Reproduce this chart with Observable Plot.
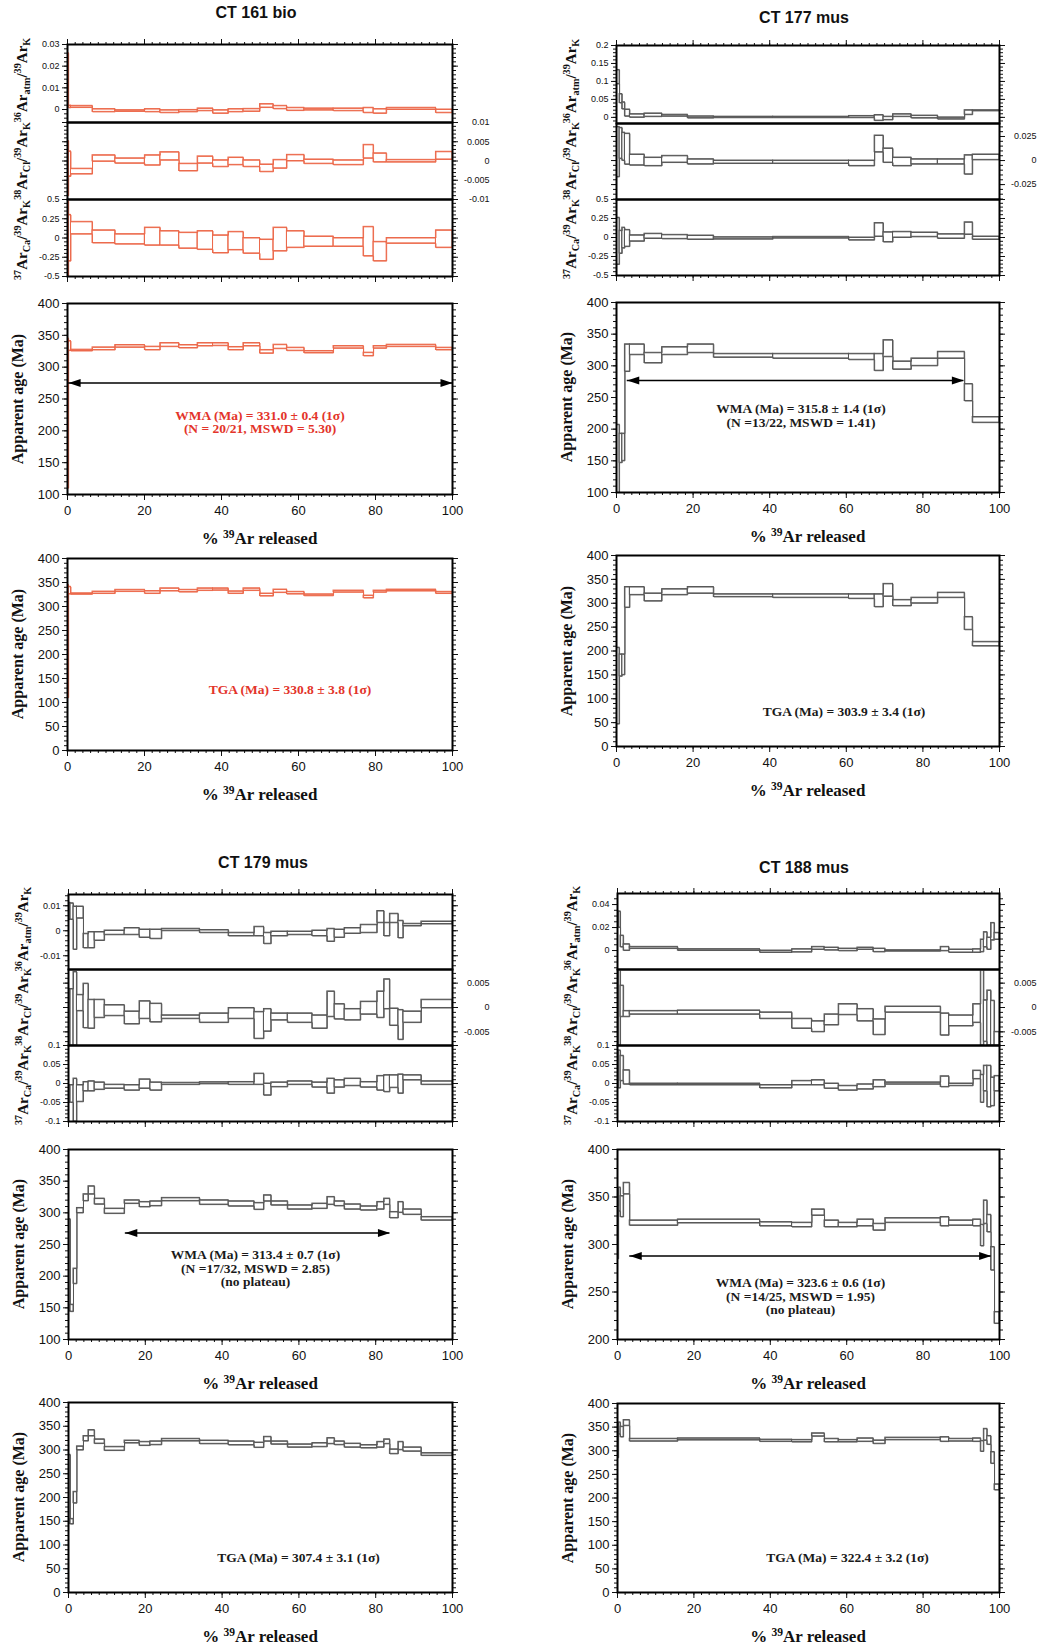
<!DOCTYPE html>
<html>
<head>
<meta charset="utf-8">
<script src="https://cdn.jsdelivr.net/npm/d3@7"></script>
<script src="https://cdn.jsdelivr.net/npm/@observablehq/plot@0.6"></script>
<style>
  html, body { margin: 0; padding: 0; background: #fff; }
  #root { position: relative; width: 1043px; height: 1649px; overflow: hidden; background: #fff; }
  .abs { position: absolute; white-space: nowrap; line-height: 1; color: #111; }
  .title { font: bold 16px "Liberation Sans", Arial, sans-serif; transform: translate(-50%, -50%); }
  .ylab { font: bold 15px "Liberation Serif", "Times New Roman", serif; transform: translate(-50%, -50%) rotate(-90deg); }
  .ylab.big { font-size: 16px; }
  .xlab { font: bold 17px "Liberation Serif", "Times New Roman", serif; transform: translate(-50%, -50%); }
  .abs sup, .abs sub { font-size: 0.68em; line-height: 0; position: relative; vertical-align: baseline; }
  .abs sup { top: -0.55em; }
  .abs sub { top: 0.3em; }
  #root svg { position: absolute; }
</style>
</head>
<body>
<div id="root"></div>
<script>
// ================= DATA =================
const sampleNames = ["CT 161 bio", "CT 177 mus", "CT 179 mus", "CT 188 mus"];

// ---- CT 161 bio : step boundaries (cumulative % 39Ar released) ----
const ct161Steps = [0, 0.3, 0.9, 6.5, 12.4, 20.1, 24.1, 29.0, 33.8, 37.8, 41.8, 45.7, 50.0, 53.5, 57.0, 61.5, 69.1, 76.9, 79.5, 82.9, 95.7, 100];
const ct161AgeLo = [110, 326, 325.4, 327.0, 331.1, 327.0, 332.2, 330.1, 333.2, 333.7, 327.0, 333.2, 321.7, 329.0, 325.9, 322.3, 329.6, 317.6, 329.6, 332.2, 327.0];
const ct161AgeHi = [345, 341, 327.5, 331.1, 334.8, 332.2, 337.9, 334.8, 337.9, 337.9, 331.7, 337.9, 327.0, 335.3, 330.6, 325.4, 333.2, 322.8, 333.2, 335.3, 330.6];
const ct161AtmLo = [0.0015, 0.0008, 0.0009, -0.0011, -0.0009, -0.0011, -0.0015, -0.0011, -0.0006, -0.0018, -0.0011, -0.0009, 0.0009, 0.0003, -0.0005, -0.0003, -0.0006, -0.0015, -0.0018, 0, -0.0015];
const ct161AtmHi = [0.026, 0.0018, 0.0017, 0.0002, -0.0003, 0.0002, -0.0003, -0.0002, 0.0005, -0.0003, 0.0002, 0.0003, 0.0025, 0.0017, 0.0008, 0.0005, 0.0005, 0.0008, 0.0002, 0.0008, 0];
const ct161ClLo = [-0.009, -0.004, -0.0034, -0.0001, -0.0006, -0.0011, 0.0002, -0.0026, -0.0006, -0.0015, -0.001, -0.0015, -0.0028, -0.0019, 0, -0.0007, -0.001, 0.0007, -0.0003, -0.0003, 0.0004];
const ct161ClHi = [0.0052, 0.0025, -0.002, 0.0015, 0.0007, 0.0015, 0.0023, -0.0007, 0.0012, 0.0002, 0.0009, 0.0002, -0.0009, 0.0003, 0.0016, 0.0004, 0.0002, 0.0042, 0.002, 0.0003, 0.0024];
const ct161CaLo = [-0.5, -0.3, 0.05, -0.065, -0.08, -0.095, -0.095, -0.135, -0.15, -0.195, -0.155, -0.2, -0.28, -0.17, -0.125, -0.11, -0.11, -0.235, -0.3, -0.07, -0.125];
const ct161CaHi = [0.48, 0.3, 0.21, 0.1, 0.05, 0.135, 0.09, 0.07, 0.09, 0.035, 0.08, 0, -0.02, 0.135, 0.09, 0.02, 0, 0.145, -0.05, 0, 0.1];

// ---- CT 177 mus ----
const ct177Steps = [0, 0.8, 1.5, 2.2, 3.5, 7.3, 11.9, 18.6, 25.4, 40.9, 60.7, 67.4, 69.7, 72.2, 77.0, 83.9, 90.9, 93.0, 100];
const ct177AgeLo = [47, 147, 150, 291, 317.5, 304.4, 317.5, 320.6, 313.3, 311.7, 309.6, 292.3, 314.3, 294.4, 300, 311.7, 244.5, 210.3];
const ct177AgeHi = [207, 193, 193, 334, 334, 320.6, 329.6, 334, 319, 319, 319, 319, 340.6, 307, 311.7, 322.2, 271.3, 219.2];
const ct177AtmLo = [0.093, 0.04, 0.023, 0.003, 0, 0.002, 0.003, -0.002, -0.001, -0.001, -0.001, -0.009, -0.007, 0.002, -0.002, -0.005, 0.0075, 0.018];
const ct177AtmHi = [0.132, 0.065, 0.042, 0.022, 0.009, 0.011, 0.0075, 0.003, 0.002, 0.002, 0.004, 0.0065, 0.002, 0.009, 0.005, 0, 0.02, 0.02];
const ct177ClLo = [-0.017, 0.002, 0, -0.004, -0.0049, -0.0056, -0.0021, -0.0038, -0.0031, -0.0031, -0.0056, 0.0087, -0.0021, -0.0056, -0.0038, -0.0038, -0.0143, 0.0007];
const ct177ClHi = [0.035, 0.034, 0.029, 0.028, 0.0063, 0.0031, 0.0049, 0.0014, 0, 0, 0, 0.026, 0.0126, 0.0031, 0.0014, 0.0014, 0.0056, 0.0063];
const ct177CaLo = [-0.355, -0.21, -0.14, -0.12, -0.05, -0.013, -0.018, -0.026, -0.022, -0.009, -0.035, 0.013, -0.06, 0, 0.009, -0.013, 0.04, -0.026];
const ct177CaHi = [0.26, 0.09, 0.13, 0.1, 0.03, 0.05, 0.035, 0.026, 0.004, 0.009, 0, 0.19, 0.07, 0.075, 0.066, 0.044, 0.2, 0.013];

// ---- CT 179 mus ----
const ct179Steps = [0, 0.5, 1.3, 2.2, 3.9, 5.2, 6.8, 9.4, 14.6, 18.5, 21.3, 24.3, 34.2, 41.7, 48.4, 50.9, 52.8, 57.1, 63.5, 67.4, 69.3, 71.9, 76.1, 80.4, 82.2, 83.7, 85.9, 87.2, 91.9, 100];
const ct179AgeLo = [145, 144, 188, 299.8, 318.8, 329.4, 313.5, 298.8, 314.6, 309.3, 310.9, 318.8, 313, 310.4, 305.1, 318.3, 312, 305.6, 306.7, 313, 310.9, 305.6, 304.1, 305.6, 313, 291.9, 300.4, 297.2, 288.2];
const ct179AgeHi = [290, 155, 212, 307.7, 329.4, 342, 322.5, 306.7, 319.9, 317.2, 318.3, 323.6, 319.9, 318.3, 315.7, 327.8, 318.3, 312, 314.6, 325.1, 318.3, 313.5, 310.4, 317.2, 322.5, 301.4, 317.2, 305.6, 293.5];
const ct179AtmLo = [0.0045, 0.0045, -0.0075, 0.005, -0.0069, -0.0069, -0.0039, -0.0016, -0.0016, -0.0027, -0.0032, 0, -0.0008, -0.0021, -0.0021, -0.0052, -0.0021, -0.0016, -0.0021, -0.0043, -0.0027, -0.0011, -0.0008, 0.0032, -0.0021, 0.0032, -0.0029, 0.0019, 0.0027];
const ct179AtmHi = [0.0112, 0.011, 0.0097, 0.0097, -0.0012, -0.0005, -0.0005, 0.0001, 0.0011, 0.0005, 0.0005, 0.0008, 0.0003, -0.0008, 0.0016, -0.0008, -0.0003, -0.0003, 0.0001, 0.0008, 0.0005, 0.0011, 0.0024, 0.0079, 0.0032, 0.0068, 0.004, 0.0028, 0.0037];
const ct179ClLo = [-0.0078, -0.0078, -0.0078, -0.0007, -0.0042, -0.0043, -0.0021, -0.0017, -0.0034, -0.0023, -0.003, -0.0023, -0.0031, -0.0023, -0.0064, -0.0049, -0.0026, -0.0031, -0.0043, -0.0019, -0.0024, -0.0026, -0.0014, -0.0021, -0.0003, -0.0037, -0.0066, -0.0031, -0.0001];
const ct179ClHi = [0.0038, 0.0038, 0.0073, 0.0026, 0.0049, 0.0016, 0.0016, 0.0005, -0.0008, 0.0013, 0.0008, -0.0016, -0.0012, -0.0001, -0.0009, -0.0003, -0.0012, -0.0012, -0.0016, 0.0033, 0.0007, -0.0003, 0.0012, 0.0033, 0.0058, -0.0002, -0.0005, -0.0008, 0.0016];
const ct179CaLo = [-0.05, -0.05, -0.1, -0.048, -0.02, -0.02, -0.016, -0.013, -0.018, -0.013, -0.018, -0.003, -0.001, -0.003, -0.003, -0.031, -0.009, -0.003, -0.01, -0.026, -0.01, -0.006, -0.01, -0.018, -0.022, -0.011, -0.026, 0.009, -0.003];
const ct179CaHi = [-0.004, -0.004, 0.013, -0.004, 0.004, 0.006, 0.003, -0.003, -0.004, 0.011, 0.003, 0.002, 0.0035, 0.004, 0.026, 0, 0.003, 0.006, 0.003, 0.013, 0.009, 0.013, 0.004, 0.02, 0.022, 0.022, 0.024, 0.022, 0.006];

// ---- CT 188 mus ----
const ct188Steps = [0, 0.3, 0.8, 1.6, 3.2, 15.8, 37.3, 45.7, 50.9, 54.2, 57.9, 62.8, 67.0, 70.1, 84.6, 86.8, 93.1, 95.1, 95.9, 96.8, 97.8, 98.7, 100];
const ct188AgeLo = [285, 335, 329, 353, 320.1, 322.6, 319.4, 318.4, 330.6, 318.4, 318.4, 319.4, 314.9, 323, 319.4, 320.1, 319.4, 298.4, 321.9, 313.1, 272.9, 216.8];
const ct188AgeHi = [341, 360, 351, 365, 325.4, 326.4, 323.6, 323, 337, 325.4, 323, 326.4, 321.9, 327.8, 328.9, 325.4, 326.4, 320.8, 346.4, 331.3, 297.4, 229];
const ct188AtmLo = [0.02, 0.02, 0.003, 0, 0.0017, 0, -0.0017, -0.0014, 0.0009, 0.0003, -0.0003, 0.0009, -0.0012, -0.0006, -0.0003, -0.0017, -0.0017, -0.0012, 0.003, 0.0009, 0.009, 0.0096];
const ct188AtmHi = [0.034, 0.034, 0.013, 0.0055, 0.0032, 0.0012, 0, 0.0012, 0.0032, 0.0026, 0.0017, 0.0026, 0.0017, 0.0003, 0.0032, 0.0009, 0.0012, 0.0096, 0.016, 0.0113, 0.024, 0.0154];
const ct188ClLo = [-0.0078, -0.0078, -0.0019, -0.0019, -0.0014, -0.0014, -0.0023, -0.0043, -0.005, -0.0036, -0.0015, -0.0028, -0.0056, -0.001, -0.0057, -0.0038, -0.0031, -0.0078, -0.007, -0.0078, -0.0078, -0.0078];
const ct188ClHi = [0.0078, 0.0078, 0.0045, -0.0007, -0.0007, -0.0006, -0.001, -0.0023, -0.0028, -0.0014, 0.0007, -0.0003, -0.0024, 0.0002, -0.0012, -0.0016, 0.0007, 0.0078, 0.0015, 0.0035, 0.0014, -0.005];
const ct188CaLo = [-0.012, -0.012, 0.007, -0.002, -0.004, -0.004, -0.012, -0.004, -0.004, -0.013, -0.018, -0.015, -0.009, -0.002, -0.009, -0.006, 0.012, -0.05, -0.02, -0.062, -0.059, -0.02];
const ct188CaHi = [0.087, 0.087, 0.073, 0.035, 0, 0, -0.004, 0.007, 0.009, 0, -0.006, -0.002, 0.009, 0.003, 0.019, 0, 0.034, 0.023, 0.047, 0.047, 0.016, 0.02];

// ---- plateau arrows and annotations ----
const plateauStart = [0.3, 2.8, 14.8, 3.2];
const plateauEnd = [100, 90.7, 83.7, 97.8];
const plateauLevel = [275, 277, 268, 288];
const wmaText = [
  "WMA (Ma) = 331.0 ± 0.4 (1σ)\n(N = 20/21, MSWD = 5.30)",
  "WMA (Ma) = 315.8 ± 1.4 (1σ)\n(N =13/22, MSWD = 1.41)",
  "WMA (Ma) = 313.4 ± 0.7 (1σ)\n(N =17/32, MSWD = 2.85)\n(no plateau)",
  "WMA (Ma) = 323.6 ± 0.6 (1σ)\n(N =14/25, MSWD = 1.95)\n(no plateau)"
];
const tgaText = ["TGA (Ma) = 330.8 ± 3.8 (1σ)", "TGA (Ma) = 303.9 ± 3.4 (1σ)", "TGA (Ma) = 307.4 ± 3.1 (1σ)", "TGA (Ma) = 322.4 ± 3.2 (1σ)"];

// ---- axis tick labels ----
const xTickLabels = [0, 20, 40, 60, 80, 100];
const ageTicks = [[100, 150, 200, 250, 300, 350, 400], [100, 150, 200, 250, 300, 350, 400], [100, 150, 200, 250, 300, 350, 400], [200, 250, 300, 350, 400]];
const tgaTicks = [0, 50, 100, 150, 200, 250, 300, 350, 400];
const atmTicks = [[0, 0.01, 0.02, 0.03], [0, 0.05, 0.1, 0.15, 0.2], [-0.01, 0, 0.01], [0, 0.02, 0.04]];
const clTicks = [[-0.01, -0.005, 0, 0.005, 0.01], [-0.025, 0, 0.025], [-0.005, 0, 0.005], [-0.005, 0, 0.005]];
const caTicks = [[-0.5, -0.25, 0, 0.25, 0.5], [-0.5, -0.25, 0, 0.25, 0.5], [-0.1, -0.05, 0, 0.05, 0.1], [-0.1, -0.05, 0, 0.05, 0.1]];

// ================= SETTINGS (axes / layout / style) =================
const atmDomain = [[-0.006, 0.03], [-0.017, 0.2], [-0.0155, 0.0145], [-0.0165, 0.0496]];
const atmMinorStep = [0.002, 0.01, 0.002, 0.005];
const clDomain = [[-0.01, 0.01], [-0.0405, 0.0385], [-0.0078, 0.0078], [-0.0078, 0.0078]];
const clMinorStep = [0.001, 0.005, 0.001, 0.001];
const caDomain = [[-0.5, 0.5], [-0.5, 0.5], [-0.1, 0.1], [-0.1, 0.1]];
const caMinorStep = [0.05, 0.05, 0.01, 0.01];
const ageMin = [100, 100, 100, 200];

const layout = [
  {L: 67, R: 452, title: [256, 13], small: [44, 122, 199, 276], age: [303, 494], tga: [558, 750], wma: [0, 23], tgaOff: [30, 35]},
  {L: 616, R: 999, title: [804, 18], small: [45, 123, 199, 275], age: [302, 492], tga: [555, 746], wma: [-7, 18], tgaOff: [36, 61]},
  {L: 68, R: 452, title: [263, 863], small: [894, 969, 1045, 1121], age: [1149, 1339], tga: [1402, 1592], wma: [-5, 24], tgaOff: [38, 60]},
  {L: 617, R: 999, title: [804, 868], small: [893, 969, 1045, 1121], age: [1149, 1339], tga: [1403, 1592], wma: [-8, 52], tgaOff: [39, 60]}
];
const lineColor = ["#ec6a4c", "#585858", "#585858", "#585858"];
const textColor = ["#e3342a", "#1a1a1a", "#1a1a1a", "#1a1a1a"];

// ================= DRAWING =================
const root = document.getElementById("root");
const fmt = d => String(+(+d).toFixed(4));
function rng(a, b, s) { // minor tick values inside [a,b]
  const out = [];
  const k0 = Math.ceil(a / s - 1e-9), k1 = Math.floor(b / s + 1e-9);
  for (let k = k0; k <= k1; k++) out.push(+(k * s).toFixed(6));
  return out;
}
function rows(steps, lo, hi) {
  return lo.map((d, i) => ({x1: steps[i], x2: steps[i + 1], y1: lo[i], y2: hi[i]}));
}
function stepPts(steps, vals) {
  const pts = vals.map((v, i) => ({x: steps[i], y: v}));
  pts.push({x: steps[steps.length - 1], y: vals[vals.length - 1]});
  return pts;
}
function addDiv(cls, html, x, y) {
  const d = document.createElement("div");
  d.className = "abs " + cls;
  d.innerHTML = html;
  d.style.left = x + "px";
  d.style.top = y + "px";
  root.append(d);
}
const arrowHead = {
  draw(ctx) { ctx.moveTo(0, 0); ctx.lineTo(-12, -4); ctx.lineTo(-12, 4); ctx.closePath(); }
};

function panel(o) {
  const mL = 50, mR = 50, mT = 14, mB = 32;
  const w = o.R - o.L, h = o.B - o.T;
  const fs = o.fontSize;
  const xMajor = xTickLabels, xMinor = rng(0, 100, 2);
  const marks = [
    Plot.rect(o.rows, {x1: "x1", x2: "x2", y1: "y1", y2: "y2", stroke: o.color, strokeWidth: 1, fill: "none", clip: true}),
    Plot.line(stepPts(o.steps, o.lo), {x: "x", y: "y", curve: "step-after", stroke: o.color, strokeWidth: 1, clip: true}),
    Plot.line(stepPts(o.steps, o.hi), {x: "x", y: "y", curve: "step-after", stroke: o.color, strokeWidth: 1, clip: true}),
    ...(o.extras || []),
    Plot.axisY({anchor: "left", ticks: o.yMinor, tickSize: 3, fill: "none", label: null}),
    Plot.axisY({anchor: "left", ticks: o.yMajor, tickSize: 5, tickPadding: 3, tickFormat: fmt, fill: o.leftLabels ? "#111" : "none", label: null}),
    Plot.axisY({anchor: "right", ticks: o.yMinor, tickSize: 3, fill: "none", label: null}),
    Plot.axisY({anchor: "right", ticks: o.yMajor, tickSize: 5, tickPadding: 32, textAnchor: "end", tickFormat: fmt, fill: o.rightLabels ? "#111" : "none", label: null})
  ];
  if (o.xTop) {
    marks.push(Plot.axisX({anchor: "top", ticks: xMinor, tickSize: 3, fill: "none", label: null}));
    marks.push(Plot.axisX({anchor: "top", ticks: xMajor, tickSize: 6, fill: "none", label: null}));
  }
  if (o.xBottom) {
    marks.push(Plot.axisX({anchor: "bottom", ticks: xMinor, tickSize: 3, fill: "none", label: null}));
    marks.push(Plot.axisX({anchor: "bottom", ticks: xMajor, tickSize: 6, tickPadding: 5, tickFormat: d => String(d), fill: o.xLabels ? "#111" : "none", label: null}));
  }
  marks.push(Plot.frame({stroke: "#000", strokeWidth: 2}));
  const svg = Plot.plot({
    width: w + mL + mR, height: h + mT + mB,
    marginLeft: mL, marginRight: mR, marginTop: mT, marginBottom: mB,
    x: {domain: [0, 100], axis: null, label: null},
    y: {domain: o.ydomain, axis: null, label: null},
    style: {background: "transparent", overflow: "visible", fontFamily: '"Liberation Sans", Arial, sans-serif', fontSize: fs + "px", color: "#111"},
    marks
  });
  svg.style.left = (o.L - mL) + "px";
  svg.style.top = (o.T - mT) + "px";
  root.append(svg);
}

const stepsList = [ct161Steps, ct177Steps, ct179Steps, ct188Steps];
const ageLoList = [ct161AgeLo, ct177AgeLo, ct179AgeLo, ct188AgeLo];
const ageHiList = [ct161AgeHi, ct177AgeHi, ct179AgeHi, ct188AgeHi];
const atmLoList = [ct161AtmLo, ct177AtmLo, ct179AtmLo, ct188AtmLo];
const atmHiList = [ct161AtmHi, ct177AtmHi, ct179AtmHi, ct188AtmHi];
const clLoList = [ct161ClLo, ct177ClLo, ct179ClLo, ct188ClLo];
const clHiList = [ct161ClHi, ct177ClHi, ct179ClHi, ct188ClHi];
const caLoList = [ct161CaLo, ct177CaLo, ct179CaLo, ct188CaLo];
const caHiList = [ct161CaHi, ct177CaHi, ct179CaHi, ct188CaHi];

const xTitle = "% <sup>39</sup>Ar released";
const smallTitles = [
  "<sup>36</sup>Ar<sub>atm</sub>/<sup>39</sup>Ar<sub>K</sub>",
  "<sup>38</sup>Ar<sub>Cl</sub>/<sup>39</sup>Ar<sub>K</sub>",
  "<sup>37</sup>Ar<sub>Ca</sub>/<sup>39</sup>Ar<sub>K</sub>"
];

sampleNames.forEach((name, i) => {
  const lay = layout[i];
  const steps = stepsList[i];
  const color = lineColor[i];
  const [t0, t1, t2, t3] = lay.small;
  const series = (lo, hi) => ({steps, lo, hi, rows: rows(steps, lo, hi)});

  addDiv("title", name, lay.title[0], lay.title[1]);

  // 36Ar atm / 39Ar K
  panel({L: lay.L, R: lay.R, T: t0, B: t1, fontSize: 9, color, ...series(atmLoList[i], atmHiList[i]),
    ydomain: atmDomain[i], yMajor: atmTicks[i], yMinor: rng(atmDomain[i][0], atmDomain[i][1], atmMinorStep[i]),
    leftLabels: true, rightLabels: false, xTop: true});
  // 38Ar Cl / 39Ar K
  panel({L: lay.L, R: lay.R, T: t1, B: t2, fontSize: 9, color, ...series(clLoList[i], clHiList[i]),
    ydomain: clDomain[i], yMajor: clTicks[i], yMinor: rng(clDomain[i][0], clDomain[i][1], clMinorStep[i]),
    leftLabels: false, rightLabels: true});
  // 37Ar Ca / 39Ar K
  panel({L: lay.L, R: lay.R, T: t2, B: t3, fontSize: 9, color, ...series(caLoList[i], caHiList[i]),
    ydomain: caDomain[i], yMajor: caTicks[i], yMinor: rng(caDomain[i][0], caDomain[i][1], caMinorStep[i]),
    leftLabels: true, rightLabels: false, xBottom: true, xLabels: false});

  const plat = [{x1: plateauStart[i], x2: plateauEnd[i], y: plateauLevel[i]}];
  const annFont = {fontSize: 13.5, fontWeight: "bold", fontFamily: '"Liberation Serif", "Times New Roman", serif', fill: textColor[i], lineHeight: 1.0};

  // apparent age spectrum with plateau arrow
  panel({L: lay.L, R: lay.R, T: lay.age[0], B: lay.age[1], fontSize: 13, color, ...series(ageLoList[i], ageHiList[i]),
    ydomain: [ageMin[i], 400], yMajor: ageTicks[i], yMinor: rng(ageMin[i], 400, 10),
    leftLabels: true, rightLabels: false, xBottom: true, xLabels: true,
    extras: [
      Plot.ruleY(plat, {x1: "x1", x2: "x2", y: "y", stroke: "#000", strokeWidth: 1.5}),
      Plot.dot(plat, {x: "x1", y: "y", symbol: arrowHead, rotate: 180, fill: "#000", stroke: "none"}),
      Plot.dot(plat, {x: "x2", y: "y", symbol: arrowHead, rotate: 0, fill: "#000", stroke: "none"}),
      Plot.text([wmaText[i]], {text: d => d, frameAnchor: "middle", dx: lay.wma[0], dy: lay.wma[1], ...annFont})
    ]});

  // total gas age panel
  panel({L: lay.L, R: lay.R, T: lay.tga[0], B: lay.tga[1], fontSize: 13, color, ...series(ageLoList[i], ageHiList[i]),
    ydomain: [0, 400], yMajor: tgaTicks, yMinor: rng(0, 400, 10),
    leftLabels: true, rightLabels: false, xBottom: true, xLabels: true,
    extras: [
      Plot.text([tgaText[i]], {text: d => d, frameAnchor: "middle", dx: lay.tgaOff[0], dy: lay.tgaOff[1], ...annFont})
    ]});

  // axis titles
  const smallMid = [(t0 + t1) / 2 - 3, (t1 + t2) / 2, (t2 + t3) / 2 + 2];
  smallTitles.forEach((t, k) => addDiv("ylab", t, lay.L - 45, smallMid[k]));
  addDiv("ylab big", "Apparent age (Ma)", lay.L - 49, (lay.age[0] + lay.age[1]) / 2);
  addDiv("ylab big", "Apparent age (Ma)", lay.L - 49, (lay.tga[0] + lay.tga[1]) / 2);
  addDiv("xlab", xTitle, (lay.L + lay.R) / 2, lay.age[1] + 45);
  addDiv("xlab", xTitle, (lay.L + lay.R) / 2, lay.tga[1] + 45);
});
</script>
</body>
</html>
